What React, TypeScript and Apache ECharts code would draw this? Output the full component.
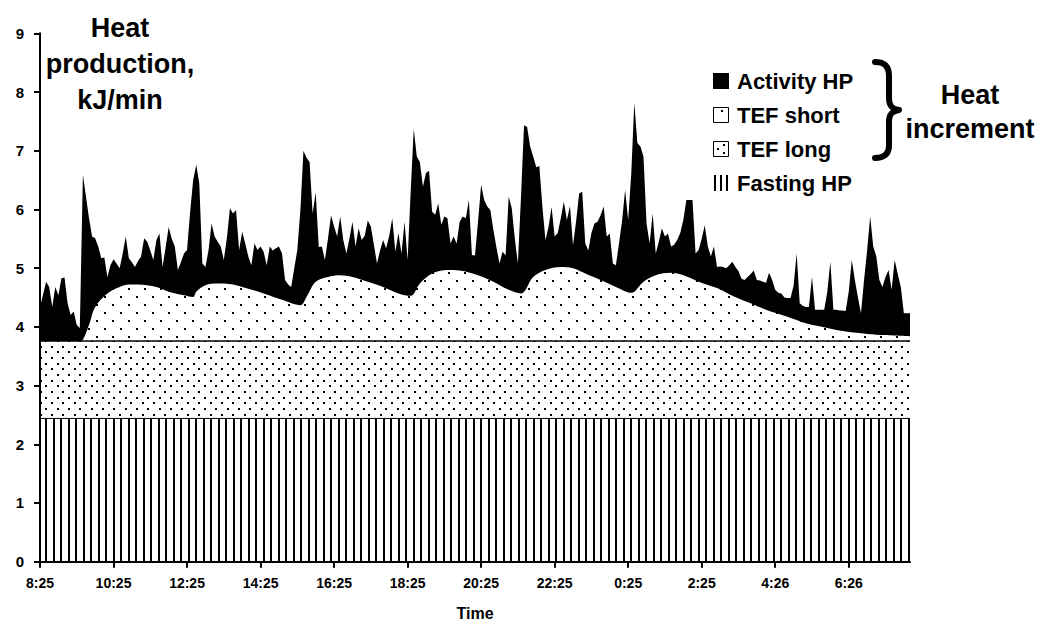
import React, { useEffect, useRef } from "react";
import * as echarts from "echarts";

// ---------- data ----------
const TICK_LABELS = ["8:25", "10:25", "12:25", "14:25", "16:25", "18:25", "20:25", "22:25", "0:25", "2:25", "4:26", "6:26"];
const TICK_STEP = 120; // minutes between labelled ticks
const X_MAX = 1420; // minutes from 8:25 to end of record

// time (minutes since 8:25) and top of Activity HP (= total heat production, kJ/min)
const totalTime = [
  0, 10, 15, 20, 25, 30, 35, 40, 45, 50, 55, 60, 65, 70, 75, 80, 85, 90, 95, 100,
  105, 110, 115, 120, 125, 130, 135, 140, 145, 150, 155, 160, 165, 170, 175, 180, 185, 190, 195, 200,
  205, 210, 215, 220, 225, 230, 235, 240, 245, 250, 255, 260, 265, 270, 275, 280, 285, 290, 295, 300,
  305, 310, 315, 320, 325, 330, 335, 340, 345, 350, 355, 360, 365, 370, 375, 380, 385, 390, 395, 400,
  405, 410, 415, 420, 425, 430, 435, 440, 445, 450, 455, 460, 465, 470, 475, 480, 485, 490, 495, 500,
  505, 510, 515, 520, 525, 530, 535, 540, 545, 550, 555, 560, 565, 570, 575, 580, 585, 590, 595, 600,
  605, 610, 615, 620, 625, 630, 635, 640, 645, 650, 655, 660, 665, 670, 675, 680, 685, 690, 695, 700,
  705, 710, 715, 720, 725, 730, 735, 740, 745, 750, 755, 760, 765, 770, 775, 780, 785, 790, 795, 800,
  805, 810, 815, 820, 825, 830, 835, 840, 845, 850, 855, 860, 865, 870, 875, 880, 885, 890, 895, 900,
  905, 910, 915, 920, 925, 930, 935, 940, 945, 950, 955, 960, 965, 970, 975, 980, 985, 990, 995, 1000,
  1005, 1010, 1015, 1020, 1025, 1030, 1035, 1040, 1045, 1050, 1055, 1060, 1065, 1070, 1075, 1080, 1085, 1090, 1095, 1100,
  1105, 1110, 1115, 1120, 1125, 1130, 1135, 1140, 1145, 1150, 1155, 1160, 1165, 1170, 1175, 1180, 1185, 1190, 1195, 1200,
  1205, 1210, 1215, 1220, 1225, 1230, 1235, 1240, 1245, 1250, 1255, 1260, 1265, 1270, 1275, 1280, 1285, 1290, 1295, 1300,
  1305, 1310, 1315, 1320, 1325, 1330, 1335, 1340, 1345, 1350, 1355, 1360, 1365, 1370, 1375, 1380, 1385, 1390, 1395, 1400,
  1405, 1410, 1415, 1420,
];
const totalHP = [
  4.34, 4.77, 4.68, 4.34, 4.68, 4.54, 4.83, 4.84, 4.40, 4.20, 4.26, 4.03, 3.98, 6.59, 6.22, 5.85, 5.54, 5.51, 5.37, 5.17,
  5.18, 4.85, 5.05, 5.15, 5.08, 5.00, 5.25, 5.54, 5.17, 5.10, 5.02, 5.12, 5.20, 5.51, 5.45, 5.30, 5.14, 5.48, 5.59, 5.02,
  5.35, 5.70, 5.50, 5.37, 4.97, 5.10, 5.25, 5.31, 5.95, 6.50, 6.76, 6.44, 5.08, 5.02, 5.30, 5.76, 5.54, 5.45, 5.37, 5.14,
  5.51, 6.02, 5.93, 5.99, 5.31, 5.62, 5.42, 5.20, 5.05, 5.42, 5.31, 5.37, 5.28, 5.05, 5.37, 5.30, 5.34, 5.37, 5.25, 4.80,
  4.72, 4.68, 5.00, 5.31, 5.99, 7.00, 6.88, 6.81, 5.93, 6.29, 5.36, 5.37, 5.14, 5.50, 5.90, 5.71, 5.54, 5.88, 5.48, 5.25,
  5.50, 5.79, 5.37, 5.68, 5.48, 5.55, 5.81, 5.71, 5.40, 5.08, 5.30, 5.48, 5.34, 5.55, 5.85, 5.28, 5.60, 5.25, 5.79, 5.14,
  6.30, 7.37, 6.90, 6.81, 6.39, 6.62, 6.66, 5.96, 5.91, 6.10, 5.74, 5.88, 5.85, 5.42, 5.54, 5.42, 5.79, 5.88, 5.85, 6.16,
  5.22, 5.22, 5.80, 6.42, 6.16, 6.05, 5.99, 5.65, 5.35, 5.08, 5.28, 5.22, 6.22, 6.02, 5.50, 5.08, 6.20, 7.43, 7.41, 7.07,
  6.90, 6.72, 6.74, 6.05, 5.48, 5.70, 6.04, 5.54, 5.60, 5.85, 6.13, 5.82, 6.06, 5.39, 5.80, 6.27, 6.30, 5.42, 5.30, 5.60,
  5.76, 5.79, 5.90, 6.05, 5.54, 5.59, 5.08, 5.05, 5.42, 5.80, 6.33, 5.82, 6.60, 7.82, 7.13, 7.07, 6.90, 5.76, 5.42, 5.93,
  5.25, 5.45, 5.68, 5.54, 5.59, 5.37, 5.40, 5.48, 5.60, 5.82, 6.16, 6.16, 6.16, 5.25, 5.31, 5.50, 5.73, 5.37, 5.20, 5.37,
  5.02, 5.03, 5.02, 5.00, 5.05, 5.11, 5.02, 4.95, 4.82, 4.80, 4.85, 4.90, 4.96, 4.80, 4.79, 4.77, 4.75, 4.92, 4.80, 4.63,
  4.58, 4.57, 4.50, 4.49, 4.49, 4.70, 5.25, 4.40, 4.36, 4.34, 4.34, 4.85, 4.29, 4.29, 4.29, 4.29, 4.60, 5.11, 4.29, 4.29,
  4.28, 4.28, 4.27, 4.60, 5.14, 4.80, 4.50, 4.23, 4.80, 5.30, 5.88, 5.37, 5.20, 4.80, 4.68, 4.85, 4.97, 4.63, 5.14, 4.90,
  4.68, 4.23, 4.23, 4.23,
];

// time and top of TEF short (= fasting HP + TEF long + TEF short)
const tefShortTime = [
  0, 65, 70, 80, 90, 110, 130, 145, 175, 190, 210, 235, 250, 255, 270, 290, 310, 330, 365, 395,
  425, 435, 450, 470, 490, 510, 535, 560, 585, 605, 620, 640, 665, 685, 715, 740, 765, 785, 805, 825,
  850, 870, 890, 915, 940, 965, 985, 1005, 1030, 1050, 1075, 1105, 1130, 1160, 1185, 1220, 1250, 1285, 1315, 1350,
  1380, 1420,
];
const tefShortTop = [
  3.76, 3.76, 3.78, 4.03, 4.34, 4.57, 4.68, 4.72, 4.71, 4.68, 4.60, 4.54, 4.51, 4.60, 4.71, 4.74, 4.73, 4.68, 4.57, 4.46,
  4.37, 4.51, 4.77, 4.85, 4.88, 4.85, 4.77, 4.68, 4.57, 4.53, 4.74, 4.91, 4.97, 4.96, 4.88, 4.77, 4.63, 4.57, 4.85, 4.97,
  5.02, 5.00, 4.91, 4.80, 4.68, 4.58, 4.77, 4.88, 4.92, 4.88, 4.77, 4.66, 4.53, 4.40, 4.29, 4.17, 4.06, 3.98, 3.92, 3.88,
  3.86, 3.84,
];

const TEF_LONG_TOP = 3.76; // fasting HP + TEF long
const FASTING_HP = 2.44;

const LEGEND_NAMES = ["Activity HP", "TEF short", "TEF long", "Fasting HP"];

// ---------- shapes ----------
const BRACE_D =
  "M 875 62 C 884 62 889 66 889 76 L 889 98 C 889 106 892 109 899 110 C 892 111 889 114 889 122 L 889 146 C 889 154 884 158 875 158";
echarts.graphic.registerShape("brace", echarts.graphic.extendPath(BRACE_D, {}) as any);

const FONT = "'Liberation Sans', Arial, Helvetica, sans-serif";

function makeTile(w: number, h: number, draw: (ctx: CanvasRenderingContext2D) => void) {
  const c = document.createElement("canvas");
  c.width = w;
  c.height = h;
  const ctx = c.getContext("2d")!;
  ctx.fillStyle = "#ffffff";
  ctx.fillRect(0, 0, w, h);
  ctx.fillStyle = "#000000";
  draw(ctx);
  return c;
}

export default function App() {
  const ref = useRef<HTMLDivElement>(null);

  useEffect(() => {
    if (!ref.current) return;
    const chart = echarts.init(ref.current, undefined, { renderer: "svg" });

    const stripes = makeTile(15, 4, (ctx) => {
      ctx.fillRect(0, 0, 2, 4);
      ctx.fillRect(8, 0, 2, 4);
    });
    const denseDots = makeTile(34, 34, (ctx) => {
      for (let r = 0; r < 6; r++) {
        for (let c = 0; c < 3; c++) {
          const x = Math.round(c * 11.333 + (r % 2) * 5.667);
          const y = Math.round(r * 5.667);
          ctx.fillRect(x, y, 2, 2);
        }
      }
    });
    const sparseDots = makeTile(16, 16, (ctx) => {
      ctx.fillRect(0, 0, 2, 2);
      ctx.fillRect(8, 8, 2, 2);
    });
    const pat = (c: HTMLCanvasElement) => ({ image: c, repeat: "repeat", imageWidth: c.width, imageHeight: c.height } as any);

    const tickVals = TICK_LABELS.map((_, i) => i * TICK_STEP);

    const legendY = [81, 115, 149, 183];
    const graphic: any[] = [
      {
        type: "text",
        style: { text: "Heat\nproduction,\nkJ/min", x: 120, y: 10, align: "center", verticalAlign: "top", fontSize: 27, fontWeight: "bold", fontFamily: FONT, lineHeight: 36, fill: "#000" },
      },
      {
        type: "text",
        style: { text: "Heat\nincrement", x: 970, y: 78, align: "center", verticalAlign: "top", fontSize: 27, fontWeight: "bold", fontFamily: FONT, lineHeight: 34, fill: "#000" },
      },
      {
        type: "text",
        style: { text: "Time", x: 475, y: 613, align: "center", verticalAlign: "middle", fontSize: 16, fontWeight: "bold", fontFamily: FONT, fill: "#000" },
      },
      { type: "brace", x: 0, y: 0, style: { fill: "none", stroke: "#000", lineWidth: 6, lineCap: "round", lineJoin: "round" } },
      // legend icons
      { type: "rect", shape: { x: 713, y: legendY[0] - 8, width: 16, height: 16 }, style: { fill: "#000" } },
      { type: "rect", shape: { x: 713.5, y: legendY[1] - 7.5, width: 15, height: 15 }, style: { fill: "#fff", stroke: "#000", lineWidth: 1 } },
      { type: "rect", shape: { x: 721, y: legendY[1] - 5, width: 2, height: 2 }, style: { fill: "#000" } },
      { type: "rect", shape: { x: 713.5, y: legendY[2] - 7.5, width: 15, height: 15 }, style: { fill: "#fff", stroke: "#000", lineWidth: 1 } },
      { type: "rect", shape: { x: 717, y: legendY[2] - 1, width: 2, height: 2 }, style: { fill: "#000" } },
      { type: "rect", shape: { x: 723, y: legendY[2] - 5, width: 2, height: 2 }, style: { fill: "#000" } },
      { type: "rect", shape: { x: 723, y: legendY[2] + 3, width: 2, height: 2 }, style: { fill: "#000" } },
      { type: "rect", shape: { x: 714, y: legendY[3] - 8, width: 2, height: 16 }, style: { fill: "#000" } },
      { type: "rect", shape: { x: 720, y: legendY[3] - 8, width: 2, height: 16 }, style: { fill: "#000" } },
      { type: "rect", shape: { x: 726, y: legendY[3] - 8, width: 2, height: 16 }, style: { fill: "#000" } },
      ...LEGEND_NAMES.map((name, i) => ({
        type: "text",
        style: { text: name, x: 737, y: legendY[i], verticalAlign: "middle", align: "left", fontSize: 22, fontWeight: "bold", fontFamily: FONT, fill: "#000" },
      })),
    ];

    const option: any = {
      animation: false,
      backgroundColor: "#ffffff",
      grid: { left: 40, right: 133, top: 33.3, bottom: 63.3, containLabel: false, outerBoundsMode: "none" },
      xAxis: {
        type: "value",
        min: 0,
        max: X_MAX,
        interval: TICK_STEP,
        z: 10,
        axisLine: { show: true, onZero: false, lineStyle: { color: "#000", width: 2 } },
        axisTick: { show: true, customValues: tickVals, length: 6, lineStyle: { color: "#000", width: 2 } },
        axisLabel: {
          customValues: tickVals,
          formatter: (v: number) => {
            const i = Math.round(v / TICK_STEP);
            return Math.abs(i * TICK_STEP - v) < 1e-6 && TICK_LABELS[i] ? TICK_LABELS[i] : "";
          },
          color: "#000",
          fontWeight: "bold",
          fontSize: 14,
          fontFamily: FONT,
          margin: 14,
        },
        splitLine: { show: false },
      },
      yAxis: {
        type: "value",
        min: 0,
        max: 9,
        interval: 1,
        z: 10,
        axisLine: { show: true, lineStyle: { color: "#000", width: 2 } },
        axisTick: { show: true, length: 6, lineStyle: { color: "#000", width: 2 } },
        axisLabel: { color: "#000", fontWeight: "bold", fontSize: 15, fontFamily: FONT, margin: 16 },
        splitLine: { show: false },
      },
      series: [
        {
          name: LEGEND_NAMES[0],
          type: "line",
          z: 2,
          symbol: "none",
          data: totalTime.map((t, i) => [t, totalHP[i]]),
          lineStyle: { width: 0, color: "#000" },
          areaStyle: { color: "#000", opacity: 1 },
        },
        {
          name: LEGEND_NAMES[1],
          type: "line",
          z: 3,
          symbol: "none",
          smooth: 0.35,
          data: tefShortTime.map((t, i) => [t, tefShortTop[i]]),
          lineStyle: { width: 0, color: "#000" },
          areaStyle: { color: pat(sparseDots), opacity: 1 },
        },
        {
          name: LEGEND_NAMES[2],
          type: "line",
          z: 4,
          symbol: "none",
          data: [
            [0, TEF_LONG_TOP],
            [X_MAX, TEF_LONG_TOP],
          ],
          lineStyle: { width: 1.5, color: "#000" },
          areaStyle: { color: pat(denseDots), opacity: 1 },
        },
        {
          name: LEGEND_NAMES[3],
          type: "line",
          z: 5,
          symbol: "none",
          data: [
            [0, FASTING_HP],
            [X_MAX, FASTING_HP],
          ],
          lineStyle: { width: 1, color: "#000" },
          areaStyle: { color: pat(stripes), opacity: 1 },
        },
      ],
      graphic,
    };

    chart.setOption(option);
    return () => chart.dispose();
  }, []);

  return (
    <div
      ref={ref}
      style={{ position: "fixed", left: 0, top: 0, width: 1043, height: 625, background: "#fff" }}
    />
  );
}
